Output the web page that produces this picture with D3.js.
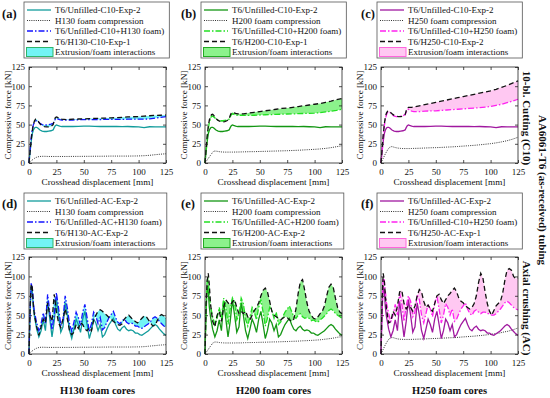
<!DOCTYPE html>
<html><head><meta charset="utf-8">
<script src="https://cdn.jsdelivr.net/npm/d3@7"></script>
<style>
body{margin:0;background:#fff}
svg{display:block}
text{font-family:"Liberation Serif","Times New Roman",serif;fill:#111}
</style>
</head><body><svg id="c" width="550" height="398"></svg>
<script>
// ---------- data ----------
const xTicks = [0,25,50,75,100,125];
const yTicks = [0,25,50,75,100,125];

// C10 (cutting) displacement grid [mm]
const dC10 = [0,1,2,3,4,5,6,7,8,10,12,14,16,18,20,22,23,24,25,26,28,30,35,40,45,50,55,60,65,70,75,80,85,90,95,100,105,110,115,120,125];
const unfilledC10 = [0,15,28,38,43,45.5,46.5,46.5,45.5,43,41.5,41,41,41.5,42,43,46,48.5,49.5,49,48,47.5,47.5,47.5,47.8,48,48,47.7,47.5,47.8,47.5,47.5,47.3,47.5,47.2,47,46,47.2,47,47,47];
const foamH130 = [0,1.5,3,4,5,6,7,7.5,8,8.5,8.7,8.7,8.6,8.5,8.5,8.5,8.5,8.5,8.5,8.5,8.5,8.5,8.5,8.6,8.6,8.7,8.7,8.8,8.8,8.9,9,9,9,9,9.1,9.2,9.5,10,10.8,11.5,12];
const foamH200 = [0,2,4,6,8,10,12,14,15.5,15.5,15,14.5,14.3,14.2,14.2,14.2,14.2,14.2,14.2,14.2,14.3,14.3,14.5,14.7,14.8,15,15.2,15.4,15.6,15.8,16,16.3,16.6,17,17.4,17.8,18.3,19,20,21.2,22.5];
const foamH250 = [0,3,6,9,12,14.5,17,19,20.5,21.5,20.5,19.8,19.3,19,18.8,18.8,18.8,18.8,18.8,18.8,18.9,19,19.2,19.5,19.8,20,20.3,20.7,21,21.5,22,22.5,23,23.7,24.4,25.2,26.2,27.5,29,31,33.5];
const sumC10H130 = [0,18,33,44,50,53,54.5,55,54,51.5,50,49.5,49.5,50,50.5,51.5,54,57,58,57.5,56.5,56,56,56,56.3,56.5,56.5,56.5,56.6,56.8,56.8,56.7,56.8,57,57,57,57,57.5,58.5,59.5,60.5];
const expH130C10 = [0,15,30,42,50,55,57,57,55.5,51,48.5,47.5,47,47,47.5,50,55,59,60,59.5,58,57,56.5,57,57.3,57.5,57.8,58,58.3,58.5,58.8,59,59.5,60,60.2,60.5,61,61.5,62,62.2,62.5];
const sumC10H200 = [0,17,33,45,53,58,60.5,61,60,57.5,55.5,55,55,55.5,56,57,60,63,64,63.5,62.5,62,62,62,62.2,62.5,62.8,63,63.3,63.5,63.8,64,64.2,64.5,64.7,65,65.5,66.5,67.5,68.5,70];
const expH200C10 = [0,18,35,48,56,61,63,63.5,62,58,55.5,54,53.5,54,55,57,62,65,66,65.5,64.5,64,64,65,66,67,68,69,70,71,71.5,72.5,73.5,74.5,75.5,76.5,77.5,79,80.5,82.5,84];
const sumC10H250 = [0,17,34,48,57,63,66,67,66,63,61,60.5,60.5,61,61.5,63,66,69,70,69,67.5,67,67,67.5,67.8,68,68.5,69,69.5,70,70.5,71,71.5,72,72.8,73.5,75,76.5,78.5,80.5,83];
const expH250C10 = [0,18,36,50,60,65,67.5,68,67,64,62,61,60.5,60.5,61,63,68,71.5,72.5,72.5,72.5,73,74.5,76,77.5,79,80.5,82,83.5,85,86.5,88,89.5,91,92.5,94,96,98.5,101,104,107];

// AC (axial crushing) displacement grid [mm]
const dAC = [0,1,2,3,4,5,7,9,11,13,15,17,19,21,23,25,27,29,31,33,35,37,39,41,43,45,47,49,51,53,55,57,59,61,63,65,67,69,71,73,75,77,79,81,83,85,87,89,91,93,95,97,99,101,103,105,107,109,111,113,115,117,119,121,123,125];
const unfilledAC = [0,55,88,80,60,48,32,22,30,44,30,68,45,22,42,70,50,28,35,66,50,30,20,32,45,38,28,45,55,38,20,30,45,40,30,38,22,25,32,38,42,46,38,32,30,34,36,32,30,31,30,27,27,25,24,26,28,30,33,36,38,36,32,29,26,24];
const foamH130AC = [0,1.5,3,4,5,6,7.5,8.3,8.7,8.7,8.6,8.5,8.5,8.5,8.5,8.5,8.5,8.5,8.5,8.5,8.5,8.5,8.5,8.6,8.6,8.6,8.7,8.7,8.7,8.7,8.7,8.8,8.8,8.8,8.8,8.8,8.9,8.9,8.9,9,9,9,9,9,9,9,9,9,9,9,9.1,9.1,9.2,9.2,9.3,9.5,9.7,10,10.3,10.6,10.8,11.1,11.4,11.6,11.8,12];
const foamH200AC = [0,2,4,6,8,10,14,15.5,15.3,14.8,14.5,14.3,14.2,14.2,14.2,14.2,14.2,14.3,14.3,14.3,14.5,14.6,14.7,14.7,14.8,14.8,14.9,15,15.1,15.2,15.2,15.3,15.4,15.5,15.6,15.6,15.7,15.8,15.9,16,16,16.2,16.3,16.4,16.5,16.6,16.8,17,17.1,17.2,17.4,17.5,17.7,17.9,18.1,18.3,18.6,19,19.3,19.7,20,20.5,21,21.6,22,22.5];
const foamH250AC = [0,3,6,9,12,14.5,19,21,21.2,20.2,19.5,19.1,18.9,18.8,18.8,18.8,18.8,18.9,19,19.1,19.2,19.3,19.4,19.5,19.7,19.8,19.9,20,20.1,20.2,20.3,20.5,20.6,20.8,20.9,21,21.1,21.3,21.5,21.8,22,22.2,22.4,22.6,22.8,23,23.3,23.6,23.8,24.1,24.4,24.8,25.1,25.5,25.9,26.2,26.8,27.3,28,28.6,29,29.8,30.6,31.5,32.5,33.5];
const sumACH130 = [0,57,91,85,66,54,40,30,39,53,39,77,54,31,51,79,59,37,44,75,59,39,29,41,54,47,37,54,64,47,29,39,54,49,39,47,31,34,41,47,51,55,47,41,39,43,45,41,39,40,39,36,36,34,33,35,37,39,42,46,48,46,42,39,36,35];
const expH130AC = [0,60,90,86,62,50,35,24,35,45,40,66,50,42,77,55,40,34,45,58,45,30,25,28,38,33,40,38,32,30,34,30,44,50,55,57,55,52,50,47,45,42,40,38,37,39,45,48,50,47,44,42,40,43,46,49,48,44,40,36,37,43,49,51,49,46];
const sumACH200 = [0,60,96,92,75,62,48,38,46,60,46,72,60,38,58,72,65,44,50,72,65,45,36,48,60,54,44,60,70,54,36,46,60,56,46,54,38,41,48,54,58,62,55,48,46,50,52,48,46,47,46,43,44,42,41,44,46,49,52,56,58,56,52,50,48,46];
const expH200AC = [0,65,95,104,88,65,42,35,50,55,42,60,70,66,63,67,70,60,52,55,52,55,48,44,50,56,60,66,75,82,85,80,68,55,50,48,46,44,46,48,47,44,42,45,58,78,93,96,82,66,55,50,46,45,48,52,55,62,75,86,90,86,72,60,54,52];
const sumACH250 = [0,62,100,95,80,66,52,42,50,64,50,78,64,42,62,75,68,48,54,76,70,50,40,52,64,58,48,65,75,58,40,50,65,60,50,58,42,45,52,58,62,66,58,52,50,55,57,54,52,54,54,52,52,50,50,52,55,58,62,66,68,66,63,60,58,57];
const expH250AC = [0,70,104,95,75,58,40,42,55,50,62,80,82,65,58,62,60,55,62,75,83,80,68,60,63,58,55,65,75,77,70,65,70,75,78,82,85,80,72,68,66,62,60,58,60,65,75,92,104,98,80,65,55,50,56,62,65,68,78,95,108,110,108,100,97,98];

const legendC10 = [
  ["T6/Unfilled-C10-Exp-2","H130 foam compression","T6/Unfilled-C10+H130 foam)","T6/H130-C10-Exp-1","Extrusion/foam interactions"],
  ["T6/Unfilled-C10-Exp-2","H200 foam compression","T6/Unfilled-C10+H200 foam)","T6/H200-C10-Exp-1","Extrusion/foam interactions"],
  ["T6/Unfilled-C10-Exp-2","H250 foam compression","T6/Unfilled-C10+H250 foam)","T6/H250-C10-Exp-2","Extrusion/foam interactions"]
];
const legendAC = [
  ["T6/Unfilled-AC-Exp-2","H130 foam compression","T6/Unfilled-AC+H130 foam)","T6/H130-AC-Exp-2","Extrusion/foam interactions"],
  ["T6/Unfilled-AC-Exp-2","H200 foam compression","T6/Unfilled-AC+H200 foam)","T6/H200-AC-Exp-2","Extrusion/foam interactions"],
  ["T6/Unfilled-AC-Exp-2","H250 foam compression","T6/Unfilled-C10+H250 foam)","T6/H250-AC-Exp-1","Extrusion/foam interactions"]
];
const panelLetters = ["(a)","(b)","(c)","(d)","(e)","(f)"];
const coreLabels = ["H130 foam cores","H200 foam cores","H250 foam cores"];

// ---------- styles ----------
const palettes = [
  {base:"#129c9c", sum:"#1414ff", fill:"#72f4f4", edge:"#2fb36a"},
  {base:"#139613", sum:"#22e022", fill:"#8cf28c", edge:"#22aa22"},
  {base:"#a0189f", sum:"#ff22f0", fill:"#ffc8f2", edge:"#ff66dd"}
];

const panels = [
  {d:dC10, base:unfilledC10, foam:foamH130, sum:sumC10H130, exp:expH130C10, leg:legendC10[0]},
  {d:dC10, base:unfilledC10, foam:foamH200, sum:sumC10H200, exp:expH200C10, leg:legendC10[1]},
  {d:dC10, base:unfilledC10, foam:foamH250, sum:sumC10H250, exp:expH250C10, leg:legendC10[2]},
  {d:dAC, base:unfilledAC, foam:foamH130AC, sum:sumACH130, exp:expH130AC, leg:legendAC[0]},
  {d:dAC, base:unfilledAC, foam:foamH200AC, sum:sumACH200, exp:expH200AC, leg:legendAC[1]},
  {d:dAC, base:unfilledAC, foam:foamH250AC, sum:sumACH250, exp:expH250AC, leg:legendAC[2]}
];

const svg = d3.select("#c");
const cols = [[29,166],[205,342],[381,518]];
const rows = [[67,163],[257,354]];
const legTop = [2,193];
const legLeft = [24,201,377];
const letterX = [2,181,361];
const letterY = [18,208];

const DASH = {sum:"6,2,1.5,2", exp:"5,3", foam:"1,1.2"};

panels.forEach((p,i)=>{
  const c = i%3, r = Math.floor(i/3);
  const pal = palettes[c];
  const x = d3.scaleLinear().domain([0,125]).range(cols[c]);
  const y = d3.scaleLinear().domain([0,125]).range([rows[r][1], rows[r][0]]);
  const g = svg.append("g");

  const area = d3.area().x((v,k)=>x(p.d[k])).y0((v,k)=>y(p.sum[k])).y1(v=>y(v));
  g.append("path").datum(p.exp).attr("d",area).attr("fill",pal.fill).attr("stroke","none");

  const line = vals => d3.line().x((v,k)=>x(p.d[k])).y(v=>y(v))(vals);
  g.append("path").attr("d",line(p.foam)).attr("fill","none").attr("stroke","#333").attr("stroke-width",1).attr("stroke-dasharray",DASH.foam);
  g.append("path").attr("d",line(p.base)).attr("fill","none").attr("stroke",pal.base).attr("stroke-width",1.3);
  g.append("path").attr("d",line(p.sum)).attr("fill","none").attr("stroke",pal.sum).attr("stroke-width",1.3).attr("stroke-dasharray",DASH.sum);
  g.append("path").attr("d",line(p.exp)).attr("fill","none").attr("stroke","#111").attr("stroke-width",1.3).attr("stroke-dasharray",DASH.exp);

  // axes box
  const [x0,x1] = cols[c], [y0,y1] = rows[r];
  g.append("rect").attr("x",x0).attr("y",y0).attr("width",x1-x0).attr("height",y1-y0)
    .attr("fill","none").attr("stroke","#222").attr("stroke-width",0.8);
  const fmt = d3.format("d");
  const styleAxis = sel => {
    sel.select(".domain").remove();
    sel.selectAll("line").attr("stroke","#222").attr("stroke-width",0.8);
    sel.selectAll("text").style("font-family","'Liberation Serif',serif").style("font-size","9px").attr("fill","#111");
  };
  g.append("g").attr("transform",`translate(0,${y1})`)
    .call(d3.axisBottom(x).tickValues(xTicks).tickFormat(fmt).tickSizeInner(-3).tickSizeOuter(0).tickPadding(6)).call(styleAxis);
  g.append("g").attr("transform",`translate(0,${y0})`)
    .call(d3.axisTop(x).tickValues(xTicks).tickFormat("").tickSizeInner(-3).tickSizeOuter(0)).call(styleAxis);
  g.append("g").attr("transform",`translate(${x0},0)`)
    .call(d3.axisLeft(y).tickValues(yTicks).tickFormat(fmt).tickSizeInner(-3).tickSizeOuter(0).tickPadding(4)).call(styleAxis);
  g.append("g").attr("transform",`translate(${x1},0)`)
    .call(d3.axisRight(y).tickValues(yTicks).tickFormat("").tickSizeInner(-3).tickSizeOuter(0)).call(styleAxis);

  // axis titles
  g.append("text").attr("x",(x0+x1)/2).attr("y",y1+21.5).attr("text-anchor","middle")
    .style("font-size","9.2px").text("Crosshead displacement [mm]");
  g.append("text").attr("transform",`translate(${x0-21.5},${(y0+y1)/2}) rotate(-90)`).attr("text-anchor","middle").attr("dy","0.35em")
    .style("font-size","9.2px").text("Compressive force [kN]");

  // panel letter
  svg.append("text").attr("x",letterX[c]).attr("y",letterY[r]).style("font-size","12.5px").style("font-weight","bold").text(panelLetters[i]);

  // legend
  const lx = legLeft[c], ly = legTop[r];
  const lg = svg.append("g").attr("transform",`translate(${lx},${ly})`);
  const box = lg.append("rect").attr("x",0).attr("y",0).attr("height",56).attr("fill","#fff").attr("stroke","#555").attr("stroke-width",0.8);
  const rowY = [8,18.5,29,39.5,50];
  const styles = [
    {stroke:pal.base, dash:null, w:1.3},
    {stroke:"#333", dash:DASH.foam, w:1},
    {stroke:pal.sum, dash:DASH.sum, w:1.3},
    {stroke:"#111", dash:DASH.exp, w:1.3}
  ];
  styles.forEach((s,k)=>{
    lg.append("line").attr("x1",3).attr("x2",27).attr("y1",rowY[k]).attr("y2",rowY[k])
      .attr("stroke",s.stroke).attr("stroke-width",s.w).attr("stroke-dasharray",s.dash);
  });
  lg.append("rect").attr("x",2.5).attr("y",rowY[4]-4.5).attr("width",26.5).attr("height",9)
    .attr("fill",pal.fill).attr("stroke",pal.edge).attr("stroke-width",1);
  let maxW = 0;
  p.leg.forEach((t,k)=>{
    const tx = lg.append("text").attr("x",31).attr("y",rowY[k]).attr("dy","0.35em").style("font-size","9px").text(t);
    maxW = Math.max(maxW, tx.node().getComputedTextLength());
  });
  box.attr("width",31+maxW+5);
});

// core labels
coreLabels.forEach((t,c)=>{
  svg.append("text").attr("x",(cols[c][0]+cols[c][1])/2).attr("y",394).attr("text-anchor","middle")
    .style("font-size","10.5px").style("font-weight","bold").text(t);
});

// right side labels
const sideLabels = [
  {t:"10-bl. Cutting (C10)", x:527, y:118},
  {t:"Axial crushing (AC)", x:527, y:308},
  {t:"AA6061-T6 (as-received) tubing", x:543, y:190}
];
sideLabels.forEach(s=>{
  svg.append("text").attr("transform",`translate(${s.x},${s.y}) rotate(90)`).attr("text-anchor","middle").attr("dy","0.35em")
    .style("font-size","11px").style("font-weight","bold").text(s.t);
});
</script></body></html>
